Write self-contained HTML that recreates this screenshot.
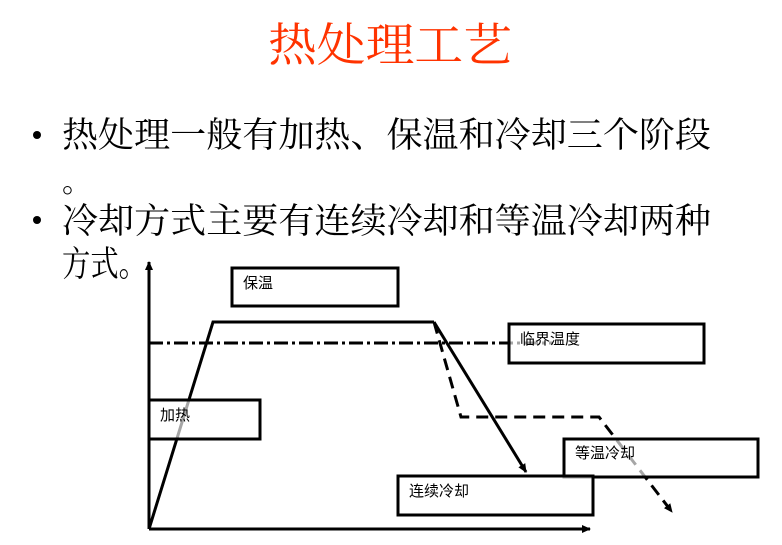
<!DOCTYPE html>
<html><head><meta charset="utf-8"><style>
html,body{margin:0;padding:0;background:#fff;width:782px;height:545px;overflow:hidden}
svg{display:block}
text{font-family:"Liberation Sans","Noto Sans CJK SC",sans-serif}
.s{font-family:"Liberation Serif","Noto Serif CJK SC",serif}
</style></head><body>
<svg width="782" height="545" viewBox="0 0 782 545" xmlns="http://www.w3.org/2000/svg">
<defs>
<marker id="ah" markerWidth="10" markerHeight="10" refX="8" refY="5" orient="auto" markerUnits="userSpaceOnUse">
<path d="M0,1 L9,5 L0,9 Z" fill="#000"/></marker>
</defs>
<text class="s" x="268" y="61" font-size="46" fill="#ff3300" textLength="244" lengthAdjust="spacingAndGlyphs">热处理工艺</text>
<circle cx="37" cy="135" r="4" fill="#000"/>
<text class="s" x="62" y="147" font-size="35" fill="#000" textLength="649" lengthAdjust="spacingAndGlyphs">热处理一般有加热、保温和冷却三个阶段</text>
<text class="s" x="62" y="192" font-size="30" fill="#000">。</text>
<circle cx="37" cy="220" r="4" fill="#000"/>
<text class="s" x="62" y="233" font-size="35" fill="#000" textLength="649" lengthAdjust="spacingAndGlyphs">冷却方式主要有连续冷却和等温冷却两种</text>
<text class="s" x="62" y="276" font-size="35" fill="#000" textLength="85" lengthAdjust="spacingAndGlyphs">方式。</text>

<g stroke="#000" stroke-width="3" fill="none">
<line x1="149" y1="529" x2="149" y2="262" marker-end="url(#ah)"/>
<line x1="149" y1="529" x2="590" y2="529" marker-end="url(#ah)"/>
<line x1="149" y1="343" x2="553" y2="343" stroke-dasharray="14,4,3,4"/>
<polyline points="149,529 213,322 434,322"/>
<line x1="434" y1="322" x2="526" y2="472" marker-end="url(#ah)"/>
<polyline points="434,322 461,417 599,417 672,512" stroke-dasharray="12,7" marker-end="url(#ah)"/>
</g>
<g stroke="#000" stroke-width="3" fill="#fff" fill-opacity="0.65">
<rect x="232" y="268" width="166" height="38"/>
<rect x="509" y="324" width="195" height="39"/>
<rect x="149" y="400" width="111" height="39"/>
<rect x="564" y="439" width="194" height="38"/>
<rect x="398" y="476" width="195" height="39"/>
</g>
<g font-size="15" fill="#000">
<text x="243" y="288">保温</text>
<text x="520" y="344">临界温度</text>
<text x="160" y="420">加热</text>
<text x="575" y="458">等温冷却</text>
<text x="409" y="496">连续冷却</text>
</g>
</svg>
</body></html>
